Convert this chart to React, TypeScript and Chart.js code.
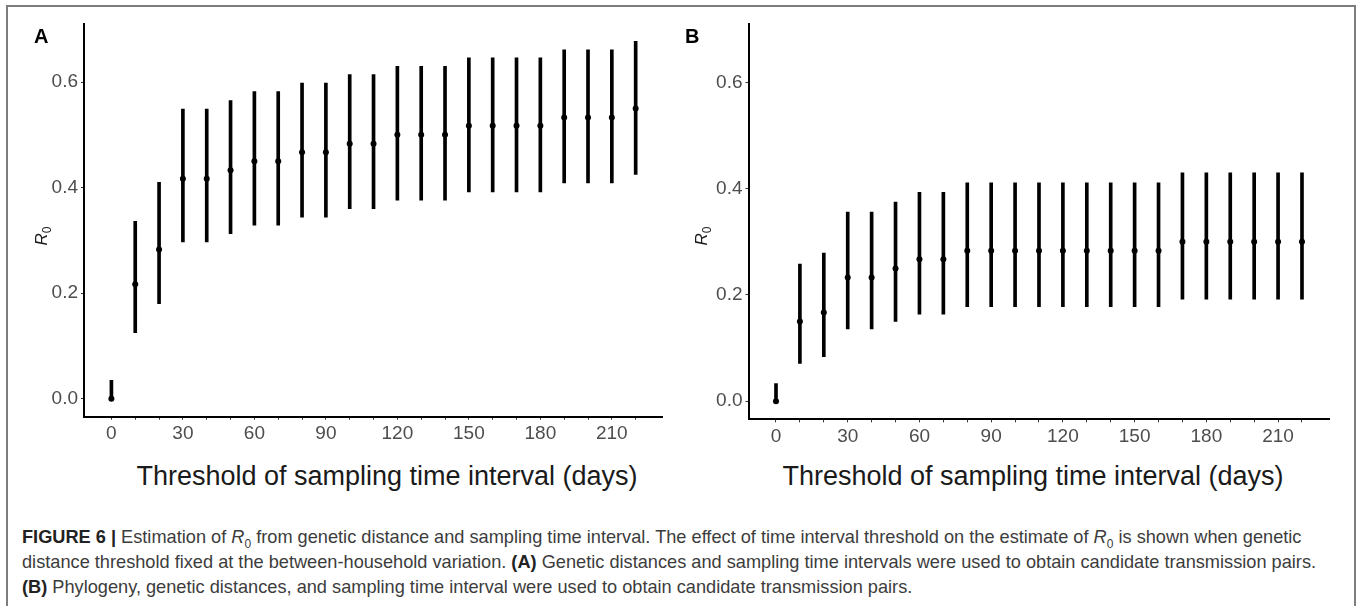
import React, { useEffect, useRef } from 'react';
import { Chart, registerables } from 'chart.js';

Chart.register(...registerables);

// ---- data ----
const thresholds = [0, 10, 20, 30, 40, 50, 60, 70, 80, 90, 100, 110, 120, 130, 140, 150, 160, 170, 180, 190, 200, 210, 220];

const meanA = [0, 0.217, 0.283, 0.417, 0.417, 0.433, 0.45, 0.45, 0.467, 0.467, 0.483, 0.483, 0.5, 0.5, 0.5, 0.517, 0.517, 0.517, 0.517, 0.533, 0.533, 0.533, 0.55];
const lowA = [0, 0.125, 0.18, 0.297, 0.297, 0.313, 0.329, 0.329, 0.344, 0.344, 0.36, 0.36, 0.376, 0.376, 0.376, 0.392, 0.392, 0.392, 0.392, 0.409, 0.409, 0.409, 0.425];
const highA = [0.035, 0.336, 0.41, 0.549, 0.549, 0.565, 0.582, 0.582, 0.598, 0.598, 0.614, 0.614, 0.63, 0.63, 0.63, 0.646, 0.646, 0.646, 0.646, 0.661, 0.661, 0.661, 0.677];

const meanB = [0, 0.15, 0.167, 0.233, 0.233, 0.25, 0.267, 0.267, 0.283, 0.283, 0.283, 0.283, 0.283, 0.283, 0.283, 0.283, 0.283, 0.3, 0.3, 0.3, 0.3, 0.3, 0.3];
const lowB = [0, 0.071, 0.084, 0.136, 0.136, 0.15, 0.164, 0.164, 0.178, 0.178, 0.178, 0.178, 0.178, 0.178, 0.178, 0.178, 0.178, 0.192, 0.192, 0.192, 0.192, 0.192, 0.192];
const highB = [0.033, 0.258, 0.279, 0.356, 0.356, 0.375, 0.393, 0.393, 0.411, 0.411, 0.411, 0.411, 0.411, 0.411, 0.411, 0.411, 0.411, 0.43, 0.43, 0.43, 0.43, 0.43, 0.43];

const yTicks = [0, 0.2, 0.4, 0.6];
const xLabelStep = 30;
const xRange = [-11.5, 231.3];
const yRange = [-0.034, 0.71];

const xTitle = 'Threshold of sampling time interval (days)';

const FONT = '"Liberation Sans", Arial, Helvetica, sans-serif';

type PanelProps = {
  left: number;
  width: number;
  height: number;
  axisLeft: number;
  axisRight: number;
  axisTop: number;
  axisBottom: number;
  means: number[];
  lows: number[];
  highs: number[];
};

function Panel(p: PanelProps) {
  const ref = useRef<HTMLCanvasElement>(null);
  useEffect(() => {
    const tickFont = { family: FONT, size: 19 };
    const chart = new Chart(ref.current as HTMLCanvasElement, {
      type: 'bar',
      data: {
        datasets: [
          {
            type: 'scatter',
            data: thresholds.map((x, i) => ({ x, y: p.means[i] })),
            pointRadius: 3,
            pointBackgroundColor: '#000',
            pointBorderWidth: 0,
            showLine: false,
          } as any,
          {
            type: 'bar',
            data: thresholds.map((x, i) => ({ x, y: [p.lows[i], p.highs[i]] })),
            backgroundColor: '#000',
            borderWidth: 0,
            barThickness: 3,
          } as any,
        ],
      },
      options: {
        responsive: false,
        animation: false,
        layout: { padding: { left: 0, top: p.axisTop, right: p.width - p.axisRight, bottom: 0 } },
        plugins: { legend: { display: false }, tooltip: { enabled: false } },
        scales: {
          x: {
            type: 'linear',
            min: xRange[0],
            max: xRange[1],
            offset: false,
            afterFit: (s: any) => {
              s.height = p.height - p.axisBottom;
            },
            afterBuildTicks: (s: any) => {
              s.ticks = thresholds.map((v) => ({ value: v }));
            },
            ticks: {
              autoSkip: false,
              maxRotation: 0,
              minRotation: 0,
              padding: 3,
              color: '#4d4d4d',
              font: tickFont,
              callback: (v: any) => (Number(v) % xLabelStep === 0 ? String(v) : ''),
            },
            grid: {
              display: true,
              drawOnChartArea: false,
              drawTicks: true,
              tickLength: 3,
              tickColor: '#333',
              tickWidth: 1,
              offset: false,
            },
            border: { display: true, color: '#000', width: 2 },
          } as any,
          y: {
            type: 'linear',
            min: yRange[0],
            max: yRange[1],
            afterFit: (s: any) => {
              s.width = p.axisLeft;
            },
            afterBuildTicks: (s: any) => {
              s.ticks = yTicks.map((v) => ({ value: v }));
            },
            ticks: {
              padding: 3,
              color: '#4d4d4d',
              font: tickFont,
              callback: (v: any) => Number(v).toFixed(1),
            },
            grid: {
              display: true,
              drawOnChartArea: false,
              drawTicks: true,
              tickLength: 3,
              tickColor: '#333',
              tickWidth: 1,
            },
            border: { display: true, color: '#000', width: 2 },
          } as any,
        },
      },
    });
    return () => chart.destroy();
  }, []);
  return (
    <canvas
      ref={ref}
      width={p.width}
      height={p.height}
      style={{ position: 'absolute', left: p.left, top: 0, width: p.width, height: p.height }}
    />
  );
}

function YTitle({ x, y }: { x: number; y: number }) {
  return (
    <div
      style={{
        position: 'absolute',
        left: x,
        top: y,
        transform: 'translate(-50%, -50%) rotate(-90deg)',
        whiteSpace: 'nowrap',
        fontSize: 17,
        lineHeight: 1,
        color: '#1a1a1a',
      }}
    >
      <i>R</i>
      <span style={{ fontSize: 12, position: 'relative', top: 4 }}>0</span>
    </div>
  );
}

function XTitle({ x, y }: { x: number; y: number }) {
  return (
    <div
      style={{
        position: 'absolute',
        left: x,
        top: y,
        transform: 'translate(-50%, -50%)',
        whiteSpace: 'nowrap',
        fontSize: 27,
        lineHeight: 1,
        color: '#1a1a1a',
      }}
    >
      {xTitle}
    </div>
  );
}

const R0 = () => (
  <>
    <i>R</i>
    <sub style={{ fontSize: 12, lineHeight: 0 }}>0</sub>
  </>
);

export default function App() {
  return (
    <div
      style={{
        position: 'absolute',
        left: 0,
        top: 0,
        width: 1357,
        height: 606,
        overflow: 'hidden',
        background: '#fff',
        fontFamily: FONT,
      }}
    >
      <div
        style={{
          position: 'absolute',
          left: 6,
          top: 5,
          width: 1350,
          height: 700,
          boxSizing: 'border-box',
          border: '2px solid #7d7d7d',
        }}
      />
      <Panel left={0} width={680} height={445} axisLeft={84} axisRight={662.6} axisTop={24} axisBottom={416.7} means={meanA} lows={lowA} highs={highA} />
      <Panel left={680} width={677} height={445} axisLeft={68.5} axisRight={649} axisTop={24} axisBottom={419.3} means={meanB} lows={lowB} highs={highB} />

      <div style={{ position: 'absolute', left: 34, top: 25.5, fontWeight: 'bold', fontSize: 20, lineHeight: 1 }}>A</div>
      <div style={{ position: 'absolute', left: 685, top: 25.5, fontWeight: 'bold', fontSize: 20, lineHeight: 1 }}>B</div>

      <YTitle x={40.5} y={236} />
      <YTitle x={700.5} y={236} />
      <XTitle x={387} y={476} />
      <XTitle x={1033} y={476} />

      <div
        style={{
          position: 'absolute',
          left: 22,
          top: 525,
          fontSize: 18.2,
          lineHeight: '25px',
          color: '#3c3c3c',
          whiteSpace: 'nowrap',
        }}
      >
        <div>
          <b style={{ color: '#222' }}>FIGURE 6 |</b> Estimation of <R0 /> from genetic distance and sampling time interval. The effect of time interval threshold on the estimate of <R0 /> is shown when genetic
        </div>
        <div>
          distance threshold fixed at the between-household variation. <b style={{ color: '#222' }}>(A)</b> Genetic distances and sampling time intervals were used to obtain candidate transmission pairs.
        </div>
        <div>
          <b style={{ color: '#222' }}>(B)</b> Phylogeny, genetic distances, and sampling time interval were used to obtain candidate transmission pairs.
        </div>
      </div>
    </div>
  );
}
